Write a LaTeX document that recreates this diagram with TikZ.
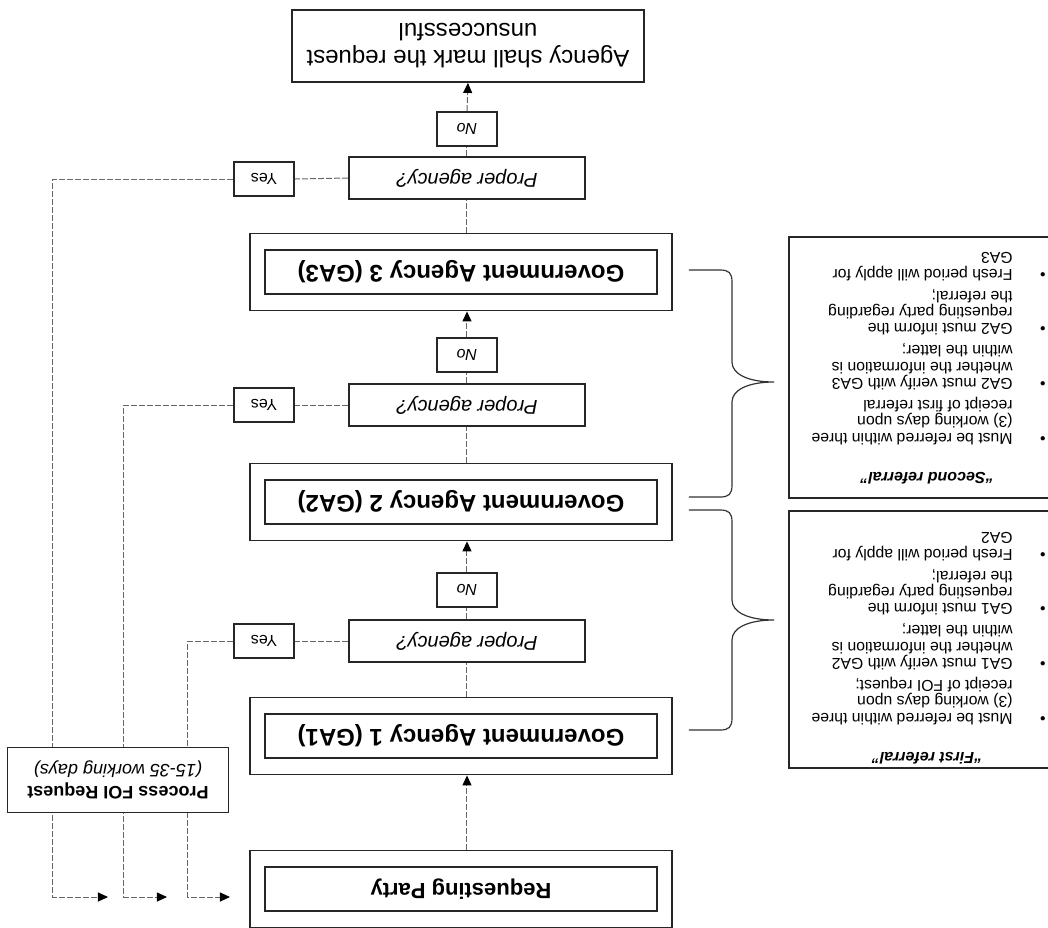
\documentclass[tikz,border=0pt]{standalone}
\usepackage{fontspec}
\setmainfont{Liberation Sans}
\usepackage{tikz}
\usetikzlibrary{positioning}
\usetikzlibrary{arrows.meta}
\usetikzlibrary{calc}

\tikzset{
  box/.style={draw=black!85, line width=0.9pt, fill=white, inner sep=2pt, align=center},
  outer/.style={draw=black!85, line width=0.9pt, minimum width=211pt, minimum height=38.5pt},
  agency/.style={box, font=\bfseries\fontsize{12}{14}\selectfont, minimum width=196pt, minimum height=22pt},
  question/.style={box, font=\itshape\fontsize{10}{12}\selectfont, minimum width=118pt, minimum height=21pt},
  answer/.style={box, font=\fontsize{8}{10}\selectfont, minimum width=30pt, minimum height=17pt},
  link/.style={draw=black!60, line width=0.5pt, dash pattern=on 3pt off 1pt},
  flow/.style={link, -{Triangle[length=5pt,width=4.5pt,black]}},
  notebox/.style={draw=black!85, line width=0.9pt},
  notetitle/.style={font=\bfseries\itshape\fontsize{8}{9}\selectfont, inner sep=0pt},
  notetext/.style={font=\fontsize{7.9}{8.2}\selectfont, inner sep=0pt},
  refbrace/.style={draw=black!80, line width=0.6pt}
}

\begin{document}
\begin{tikzpicture}[x=0.5pt,y=0.5pt]
\begin{scope}[rotate=180, transform shape]
  \useasboundingbox (0,0) rectangle (1048,927);
  \clip (0,0) rectangle (1048,927);

  % main column
  \node[outer] (rpo) at (587,889) {};
  \node[agency, font=\bfseries\fontsize{11}{13}\selectfont] (rp) at (rpo) {Requesting Party};
  \node[outer] (ga1o) at (587,736) {};
  \node[agency] (ga1) at (ga1o) {Government Agency 1 (GA1)};
  \node[outer] (ga2o) at (587,502) {};
  \node[agency] (ga2) at (ga2o) {Government Agency 2 (GA2)};
  \node[outer] (ga3o) at (587,272) {};
  \node[agency] (ga3) at (ga3o) {Government Agency 3 (GA3)};

  \node[question] (pa1) at (581,641) {Proper agency?};
  \node[question] (pa2) at (581,405) {Proper agency?};
  \node[question] (pa3) at (581,178) {Proper agency?};

  \node[answer, font=\itshape\fontsize{8}{10}\selectfont] (no1) at (581,590) {No};
  \node[answer, font=\itshape\fontsize{8}{10}\selectfont] (no2) at (581,355) {No};
  \node[answer, font=\itshape\fontsize{8}{10}\selectfont] (no3) at (581,129) {No};

  \node[answer] (yes1) at (784,641) {Yes};
  \node[answer] (yes2) at (784,405) {Yes};
  \node[answer] (yes3) at (784,179) {Yes};

  \node[box, font=\fontsize{12}{13.5}\selectfont, minimum width=176pt, minimum height=36pt] (fail) at (580,46) {Agency shall mark the request\\unsuccessful};

  \draw[flow] (rpo.south -| no1) -- (ga1o.north -| no1);
  \draw[link] (ga1o.south -| pa1) -- (pa1.north);
  \draw[link] (pa1.south) -- (no1.north);
  \draw[flow] (no1.south) -- (ga2o.north -| no1);
  \draw[link] (ga2o.south -| pa2) -- (pa2.north);
  \draw[link] (pa2.south) -- (no2.north);
  \draw[flow] (no2.south) -- (ga3o.north -| no2);
  \draw[link] (ga3o.south -| pa3) -- (pa3.north);
  \draw[link] (pa3.south) -- (no3.north);
  \draw[flow] (no3.south) -- (fail.north);

  % yes branches back to the requesting party
  \coordinate (turn1) at (860,897);
  \coordinate (turn2) at (924,897);
  \coordinate (turn3) at (995,897);
  \coordinate (end1) at (818,897);
  \coordinate (end2) at (881,897);
  \coordinate (end3) at (940,897);
  \draw[link] (pa1.east) -- (yes1.west);
  \draw[link] (pa2.east) -- (yes2.west);
  \draw[link] (pa3.east) -- (yes3.west);
  \draw[flow] (yes1.east) -| (turn1) -- (end1);
  \draw[flow] (yes2.east) -| (turn2) -- (end2);
  \draw[flow] (yes3.east) -| (turn3) -- (end3);

  \node[box, font=\fontsize{9}{10.8}\selectfont, minimum width=110.5pt, minimum height=32.5pt] (proc) at (930,780) {\textbf{Process FOI Request}\\\textit{(15-35 working days)}};

  % referral notes
  \draw[refbrace] (359,730) -- (328,730) .. controls (319,730) and (316,727) .. (316,718) -- (316,640) .. controls (316,628) and (300,620) .. (274,620) .. controls (300,620) and (316,612) .. (316,600) -- (316,522) .. controls (316,513) and (319,510) .. (328,510) -- (359,510);
  \draw[refbrace] (359,497) -- (328,497) .. controls (319,497) and (316,494) .. (316,485) -- (316,402) .. controls (316,390) and (300,382) .. (274,382) .. controls (300,382) and (316,374) .. (316,362) -- (316,282) .. controls (316,273) and (319,270) .. (328,270) -- (359,270);

  \draw[notebox] (-20,511) rectangle (259,768);
  \node[notetitle, anchor=base] (title1) at (121,752) {“First referral”};
  \node[notetext, anchor=base west] (list1) at (2,713) {%
    \begin{tabular}[t]{@{}p{16.5pt}@{}l@{}}
    \textbullet & Must be referred within three\\
                & (3) working days upon\\
                & receipt of FOI request;\\[2.7pt]
    \textbullet & GA1 must verify with GA2\\
                & whether the information is\\
                & within the latter;\\[2.7pt]
    \textbullet & GA1 must inform the\\
                & requesting party regarding\\
                & the referral;\\[2.7pt]
    \textbullet & Fresh period will apply for\\
                & GA2
    \end{tabular}};

  \draw[notebox] (-20,237) rectangle (259,498);
  \node[notetitle, anchor=base] (title2) at (121,472) {“Second referral”};
  \node[notetext, anchor=base west] (list2) at (2,433) {%
    \begin{tabular}[t]{@{}p{16.5pt}@{}l@{}}
    \textbullet & Must be referred within three\\
                & (3) working days upon\\
                & receipt of first referral\\[2.7pt]
    \textbullet & GA2 must verify with GA3\\
                & whether the information is\\
                & within the latter;\\[2.7pt]
    \textbullet & GA2 must inform the\\
                & requesting party regarding\\
                & the referral;\\[2.7pt]
    \textbullet & Fresh period will apply for\\
                & GA3
    \end{tabular}};
\end{scope}
\end{tikzpicture}
\end{document}
